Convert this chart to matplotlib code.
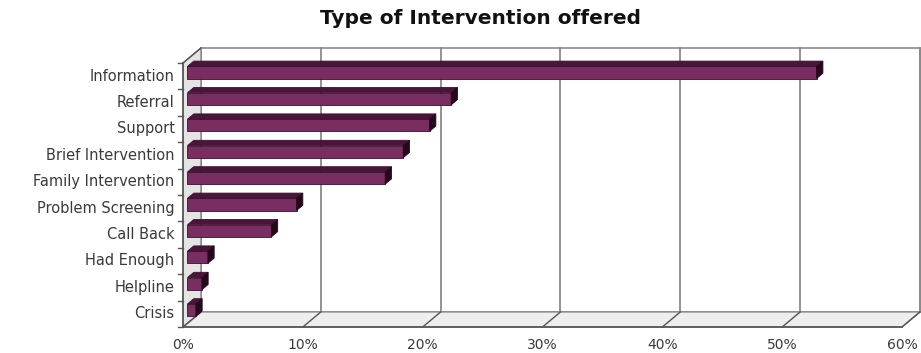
import matplotlib.pyplot as plt
from matplotlib.patches import Polygon

categories = ['Information', 'Referral', 'Support', 'Brief Intervention',
              'Family Intervention', 'Problem Screening', 'Call Back',
              'Had Enough', 'Helpline', 'Crisis']
values = [52.5, 22.0, 20.2, 18.0, 16.5, 9.1, 7.0, 1.7, 1.2, 0.7]
xticks = [0, 10, 20, 30, 40, 50, 60]
xlabels = ['0%', '10%', '20%', '30%', '40%', '50%', '60%']
title = 'Type of Intervention offered'

# fake 3D depth, in data units
DX, DY = 1.5, 0.57
F0, F1 = 0.25, 0.6      # bar front / back depth fraction
BAR_H = 0.46

fig = plt.figure(figsize=(9.21, 3.53), dpi=100)
ax = fig.add_axes([183 / 921, 1 - 327 / 353, 719 / 921, 264 / 353])
ax.set_xlim(0, 60)
ax.set_ylim(0, 10)
ax.axis('off')

grid_c = '#8a8a8a'
wall_c = '#e4e4e4'
txt_c = '#3a3a3a'

# back wall, floor, side wall
ax.add_patch(Polygon([(DX, DY), (60 + DX, DY), (60 + DX, 10 + DY), (DX, 10 + DY)],
                     closed=True, fc='white', ec=grid_c, lw=1.2, clip_on=False, zorder=0))
ax.add_patch(Polygon([(0, 0), (60, 0), (60 + DX, DY), (DX, DY)],
                     closed=True, fc='#eeeeee', ec=grid_c, lw=1.0, clip_on=False, zorder=1))
ax.add_patch(Polygon([(0, 0), (DX, DY), (DX, 10 + DY), (0, 10)],
                     closed=True, fc=wall_c, ec=grid_c, lw=1.0, clip_on=False, zorder=1))

for t, lab in zip(xticks, xlabels):
    ax.plot([t + DX, t + DX], [DY, 10 + DY], color=grid_c, lw=1.3, clip_on=False, zorder=0.5)
    ax.plot([t, t + DX], [0, DY], color='#555555', lw=1.0, clip_on=False, zorder=1.5)
    ax.text(t, -0.4, lab, ha='center', va='top', fontsize=10, color=txt_c, clip_on=False)

# front axes lines
ax.plot([0, 60], [0, 0], color='#555555', lw=1.2, clip_on=False, zorder=2)
ax.plot([0, 0], [0, 10], color='#555555', lw=1.2, clip_on=False, zorder=2)
ax.plot([0, DX], [10, 10 + DY], color='#555555', lw=1.0, clip_on=False, zorder=2)
for k in range(11):
    ax.plot([-0.4, 0], [k, k], color='#555555', lw=1.0, clip_on=False, zorder=2)

# bars, top of list at the top
n = len(categories)
ypos = [n - 0.5 - i for i in range(n)]
ox, oy = F0 * DX, F0 * DY
ddx, ddy = (F1 - F0) * DX, (F1 - F0) * DY
bars = ax.barh([y + oy for y in ypos], values, height=BAR_H, left=ox,
               color='#7a2d60', edgecolor='#3a1030', lw=0.6, zorder=5, clip_on=False)
for y, v in zip(ypos, values):
    y0 = y + oy - BAR_H / 2
    y1 = y + oy + BAR_H / 2
    top = [(ox, y1), (ox + v, y1), (ox + v + ddx, y1 + ddy), (ox + ddx, y1 + ddy)]
    end = [(ox + v, y0), (ox + v + ddx, y0 + ddy), (ox + v + ddx, y1 + ddy), (ox + v, y1)]
    ax.add_patch(Polygon(top, closed=True, fc='#4a1538', ec='#3a1030', lw=0.6,
                         zorder=5, clip_on=False))
    ax.add_patch(Polygon(end, closed=True, fc='#26081b', ec='#26081b', lw=0.6,
                         zorder=5, clip_on=False))

for y, c in zip(ypos, categories):
    ax.text(-0.7, y, c, ha='right', va='center', fontsize=10.5, color=txt_c, clip_on=False)

fig.text(480 / 921, 1 - 19 / 353, title, ha='center', va='center', fontsize=14.5,
         fontweight='bold', color='#111111')

fig.savefig('out.png', dpi=100)
